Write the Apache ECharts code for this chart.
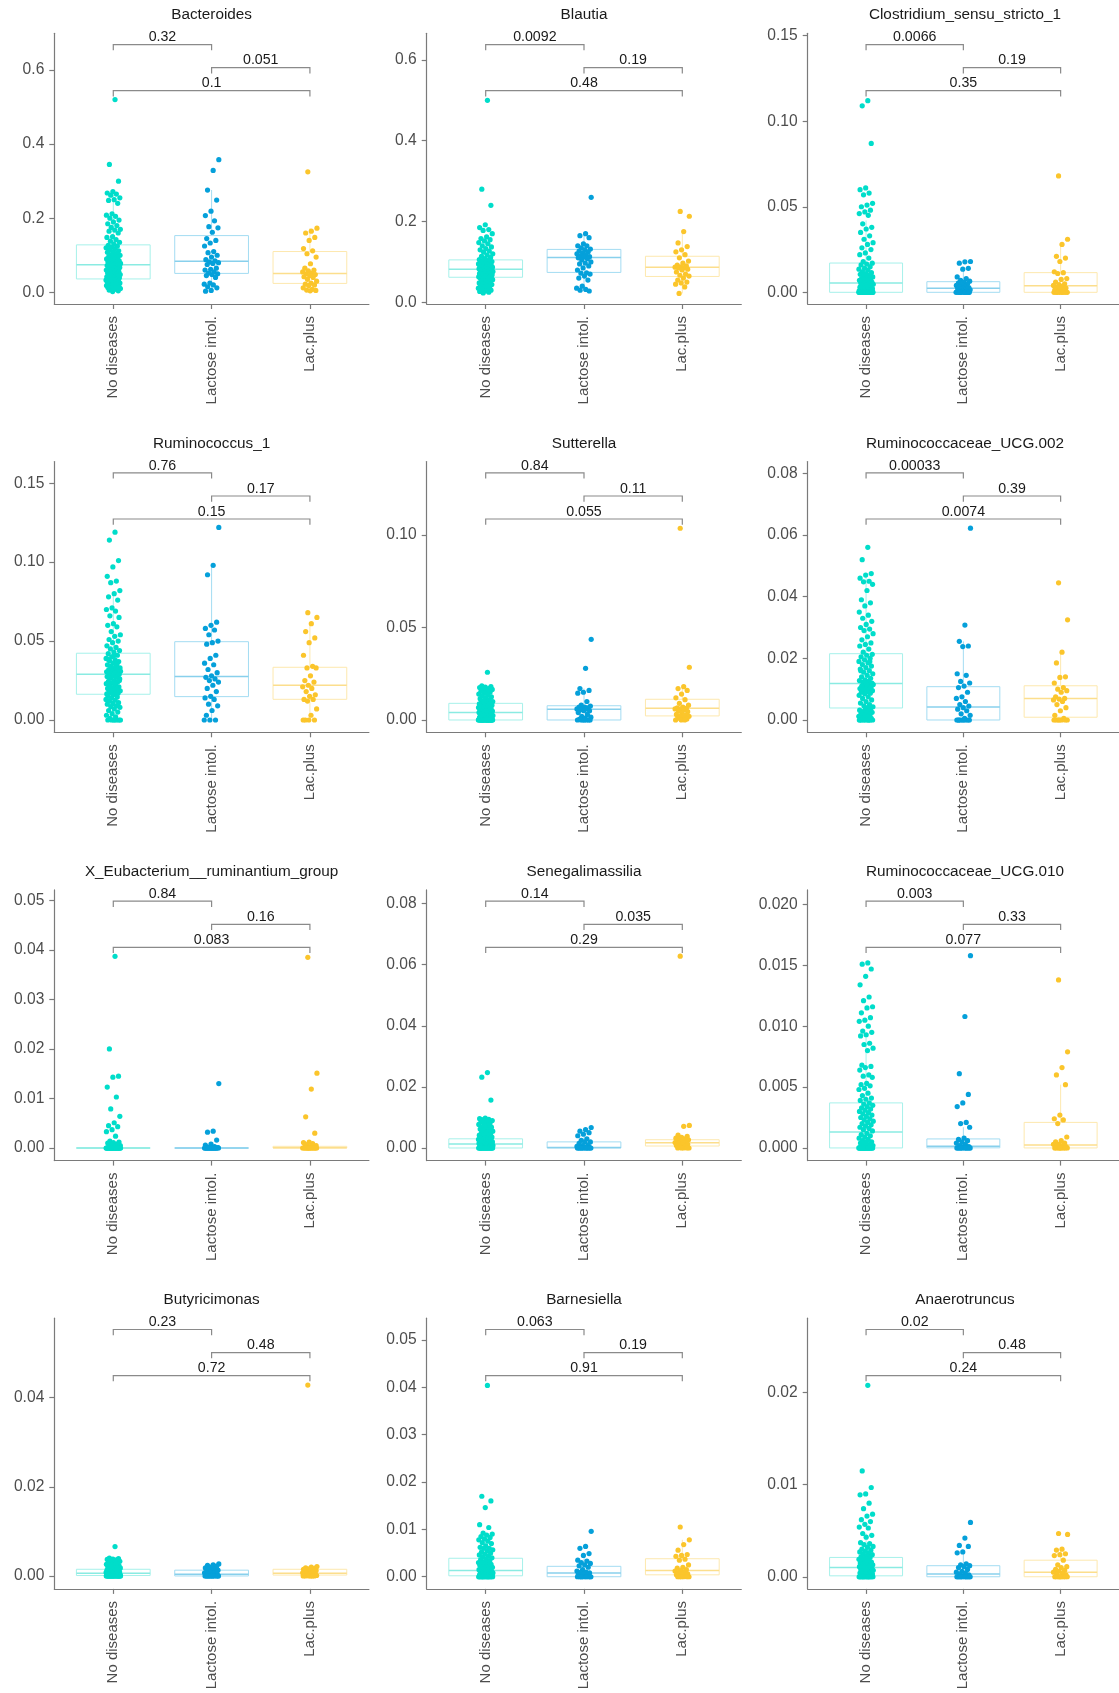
<!DOCTYPE html>
<html><head><meta charset="utf-8">
<script src="https://cdn.jsdelivr.net/npm/echarts@6.0.0/dist/echarts.min.js"></script>
<style>html,body{margin:0;padding:0;background:#fff}#c{width:1119px;height:1693px}</style>
</head><body><div id="c"></div>
<script>
const categories = ['No diseases', 'Lactose intol.', 'Lac.plus'];
const taxa = ['Bacteroides','Blautia','Clostridium_sensu_stricto_1','Ruminococcus_1','Sutterella','Ruminococcaceae_UCG.002','X_Eubacterium__ruminantium_group','Senegalimassilia','Ruminococcaceae_UCG.010','Butyricimonas','Barnesiella','Anaerotruncus'];
const yMinVals = [-0.0316,-0.0042,-0.00684,-0.0078,-0.00665,-0.00399,-0.00254,-0.00413,-0.00104,-0.0029,-0.00257,-0.00132];
const yMaxVals = [0.699,0.666,0.1514,0.1637,0.1396,0.0838,0.0521,0.0845,0.0212,0.0578,0.0546,0.0281];
const yTickLabels = [
  ['0.0','0.2','0.4','0.6'],['0.0','0.2','0.4','0.6'],['0.00','0.05','0.10','0.15'],
  ['0.00','0.05','0.10','0.15'],['0.00','0.05','0.10'],['0.00','0.02','0.04','0.06','0.08'],
  ['0.00','0.01','0.02','0.03','0.04','0.05'],['0.00','0.02','0.04','0.06','0.08'],['0.000','0.005','0.010','0.015','0.020'],
  ['0.00','0.02','0.04'],['0.00','0.01','0.02','0.03','0.04','0.05'],['0.00','0.01','0.02']
];
// p-values: [No vs Lactose, Lactose vs Lac.plus, No vs Lac.plus]
const pLabels = [
  ['0.32','0.051','0.1'],['0.0092','0.19','0.48'],['0.0066','0.19','0.35'],
  ['0.76','0.17','0.15'],['0.84','0.11','0.055'],['0.00033','0.39','0.0074'],
  ['0.84','0.16','0.083'],['0.14','0.035','0.29'],['0.003','0.33','0.077'],
  ['0.23','0.48','0.72'],['0.063','0.19','0.91'],['0.02','0.48','0.24']
];
// box stats: [lower whisker, q1, median, q3, upper whisker]
const boxND = [[0.002,0.036,0.074,0.128,0.272],[0.023,0.062,0.082,0.105,0.165],[0,0,0.0054,0.0171,0.042],[0,0.0163,0.029,0.0423,0.08],[0,0,0.0041,0.009,0.0185],[0,0.0039,0.0118,0.0215,0.0475],[0,0,0,0,0],[0,0,0.0013,0.003,0.0074],[0,0,0.0013,0.0037,0.0093],[0,0.0001,0.0006,0.0015,0.0035],[0,0.0002,0.0013,0.0039,0.0092],[0,0.0001,0.001,0.0021,0.0047]];
const boxLI = [[0.003,0.051,0.084,0.153,0.276],[0.028,0.074,0.111,0.131,0.17],[0,0,0.0023,0.0062,0.014],[0,0.0148,0.0275,0.0496,0.098],[0,0,0.0058,0.0077,0.017],[0,0,0.0042,0.0108,0.0255],[0,0,0,0,0],[0,0,0.0002,0.002,0.005],[0,0.00001,0.00014,0.00074,0.0017],[0,0,0.0004,0.0013,0.0027],[0,0,0.0008,0.0022,0.0049],[0,0,0.0003,0.0012,0.0029]];
const boxLP = [[0.003,0.024,0.051,0.110,0.173],[0.022,0.064,0.087,0.114,0.175],[0,0,0.0039,0.0115,0.028],[0,0.0131,0.022,0.0334,0.061],[0,0.0022,0.0063,0.0112,0.018],[0,0.0009,0.007,0.0111,0.022],[0,0,0.00005,0.00034,0.0012],[0,0.00065,0.0017,0.0027,0.0042],[0,0,0.00025,0.0021,0.0052],[0,0.0002,0.0006,0.0015,0.0021],[0,0.0004,0.0013,0.0038,0.0078],[0,0,0.0005,0.0018,0.003]];

// ---- point values ----
const ndBacteroides = [0.52,0.345,0.30,0.272,0.268,0.265,0.262,0.255,0.25,0.248,0.24,0.212,0.208,0.205,0.20,0.195,0.19,0.185,0.18,0.175,0.17,0.168,0.165,0.16,0.15,0.148,0.142,0.138,0.135,0.13,
 0.127,0.125,0.122,0.12,0.118,0.115,0.112,0.11,0.108,0.105,0.102,0.1,0.098,0.096,0.094,0.092,0.09,0.088,0.086,0.085,0.083,0.082,0.08,0.079,0.078,0.077,0.076,0.075,
 0.073,0.072,0.07,0.069,0.067,0.066,0.064,0.062,0.061,0.06,0.058,0.056,0.055,0.053,0.052,0.05,0.049,0.048,0.046,0.045,0.044,0.043,0.042,0.041,0.04,0.039,0.038,0.037,
 0.035,0.034,0.033,0.032,0.031,0.03,0.029,0.028,0.027,0.026,0.025,0.024,0.022,0.021,0.02,0.018,0.017,0.016,0.015,0.014,0.013,0.012,0.011,0.01,0.008,0.006,0.004,0.002];
const liBacteroides = [0.358,0.329,0.276,0.249,0.219,0.207,0.193,0.177,0.174,0.162,0.145,0.14,0.133,0.125,0.11,0.107,0.1,0.095,0.088,0.085,0.082,0.08,0.078,0.075,0.065,0.062,0.06,0.055,0.052,0.05,0.048,0.045,0.04,0.025,0.022,0.02,0.015,0.012,0.005,0.003];
const lpBacteroides = [0.325,0.173,0.165,0.16,0.148,0.14,0.118,0.112,0.104,0.095,0.077,0.065,0.06,0.058,0.055,0.052,0.05,0.048,0.045,0.042,0.04,0.035,0.03,0.025,0.022,0.02,0.018,0.012,0.008,0.006,0.005,0.004];

const ndBlautia = [0.50,0.28,0.24,0.192,0.185,0.18,0.178,0.17,0.162,0.158,0.155,0.152,0.148,0.145,0.14,0.137,0.133,0.13,0.127,0.124,0.12,0.117,0.114,0.111,0.108,0.106,
 0.104,0.103,0.101,0.1,0.099,0.097,0.096,0.095,0.094,0.093,0.092,0.091,0.09,0.089,0.088,0.087,0.086,0.086,0.085,0.084,0.083,0.083,0.082,
 0.081,0.08,0.079,0.078,0.077,0.076,0.075,0.074,0.073,0.072,0.071,0.07,0.069,0.068,0.067,0.066,0.065,0.064,0.063,0.062,0.062,0.063,0.066,
 0.061,0.06,0.058,0.056,0.055,0.053,0.052,0.05,0.048,0.047,0.045,0.044,0.042,0.04,0.039,0.037,0.035,0.034,0.032,0.03,0.028,0.027,0.025,0.023];
const liBlautia = [0.26,0.17,0.165,0.16,0.145,0.14,0.14,0.135,0.132,0.13,0.127,0.125,0.122,0.12,0.118,0.115,0.113,0.112,0.11,0.108,0.105,0.1,0.097,0.095,0.09,0.085,0.08,0.073,0.072,0.07,0.065,0.06,0.055,0.04,0.035,0.032,0.03,0.028];
const lpBlautia = [0.225,0.213,0.175,0.147,0.138,0.13,0.125,0.118,0.11,0.102,0.097,0.092,0.09,0.088,0.087,0.086,0.085,0.082,0.08,0.075,0.07,0.067,0.065,0.06,0.055,0.05,0.048,0.045,0.038,0.022];

const ndClostridium = [0.112,0.109,0.087,0.061,0.06,0.058,0.057,0.052,0.051,0.05,0.048,0.047,0.046,0.045,0.04,0.038,0.037,0.035,0.033,0.031,0.029,0.028,0.026,0.025,0.023,0.022,0.02,0.018,
 0.017,0.0165,0.016,0.015,0.014,0.0135,0.013,0.012,0.0115,0.011,0.0105,0.01,0.0095,0.009,0.0085,0.008,0.0078,0.0074,0.007,0.0066,0.0063,0.006,0.0057,0.0055,
 0.0053,0.005,0.0047,0.0044,0.004,0.0037,0.0034,0.003,0.0027,0.0024,0.0021,0.0018,0.0015,0.0013,0.001,0.0008,0.0006,0.0005,0.0004,0.0003,0.0002,0.0001,0.0001,0.0001,
 0,0,0,0,0,0,0,0,0,0,0,0,0,0,0,0,0,0,0,0,0,0,0,0,0,0];
const liClostridium = [0.018,0.0178,0.017,0.014,0.0135,0.009,0.008,0.007,0.0065,0.006,0.0055,0.005,0.0045,0.004,0.0035,0.003,0.0028,0.0025,0.0022,0.002,0.0018,0.0015,0.0012,0.001,0.0008,0.0005,0.0003,0.0001,0,0,0,0,0,0,0,0,0,0];
const lpClostridium = [0.068,0.031,0.028,0.021,0.02,0.018,0.012,0.0115,0.011,0.008,0.0075,0.006,0.005,0.0045,0.004,0.0035,0.003,0.0025,0.002,0.0015,0.001,0.0005,0,0,0,0,0,0,0,0];

const ndRuminococcus1 = [0.119,0.114,0.101,0.097,0.091,0.088,0.087,0.082,0.08,0.078,0.076,0.071,0.07,0.069,0.066,0.065,0.061,0.06,0.059,0.056,0.054,0.053,0.051,0.05,0.049,0.047,0.046,0.045,0.044,0.043,
 0.042,0.041,0.04,0.039,0.038,0.0375,0.037,0.036,0.035,0.0345,0.034,0.033,0.0325,0.032,0.0315,0.031,0.0305,0.03,0.0295,0.029,0.0405,0.0385,0.0355,0.0335,0.0308,0.0298,0.0292,
 0.0288,0.028,0.0275,0.027,0.0265,0.026,0.025,0.0245,0.024,0.0235,0.023,0.0225,0.022,0.021,0.0205,0.02,0.0195,0.019,0.0185,0.018,0.0175,0.017,0.0168,0.0165,0.0164,0.021,0.025,
 0.016,0.015,0.0145,0.014,0.013,0.0125,0.012,0.011,0.0105,0.01,0.009,0.0085,0.008,0.007,0.006,0.005,0.004,0.003,0.002,0.001,0,0,0,0,0,0,0];
const liRuminococcus1 = [0.122,0.098,0.092,0.062,0.06,0.058,0.057,0.054,0.05,0.049,0.048,0.041,0.039,0.036,0.035,0.032,0.03,0.028,0.027,0.026,0.025,0.024,0.022,0.02,0.018,0.015,0.014,0.013,0.01,0.009,0.006,0.003,0,0,0];
const lpRuminococcus1 = [0.068,0.065,0.061,0.056,0.052,0.049,0.041,0.034,0.033,0.033,0.028,0.025,0.024,0.022,0.021,0.02,0.018,0.016,0.015,0.013,0.013,0.012,0.007,0.003,0,0,0,0];

const ndSutterella = [0.0258,0.0185,0.018,0.0178,0.0175,0.017,0.0168,0.0165,0.016,0.0155,0.015,0.0145,0.014,0.0135,0.013,0.0125,0.012,0.0115,0.011,0.0105,0.01,0.0098,0.0095,0.0092,
 0.0089,0.0087,0.0085,0.0082,0.008,0.0078,0.0075,0.0072,0.007,0.0067,0.0065,0.0062,0.006,0.0057,0.0055,0.0053,0.005,0.0048,0.0046,0.0044,0.0043,0.0042,
 0.004,0.0038,0.0036,0.0034,0.0032,0.003,0.0028,0.0026,0.0024,0.0022,0.002,0.0018,0.0016,0.0014,0.0012,0.001,0.0008,0.0006,0.0005,0.0004,0.0003,0.0002,
 0,0,0,0,0,0,0,0,0,0,0,0,0,0,0,0,0,0,0,0,0,0,0,0];
const liSutterella = [0.0436,0.0279,0.017,0.016,0.015,0.0145,0.01,0.008,0.0075,0.007,0.007,0.0065,0.006,0.006,0.006,0.0055,0.005,0.005,0.004,0.003,0.002,0.0015,0.001,0.0005,0,0,0,0,0,0,0];
const lpSutterella = [0.1036,0.0285,0.018,0.017,0.016,0.014,0.012,0.011,0.009,0.008,0.007,0.0065,0.0063,0.006,0.006,0.0055,0.005,0.0045,0.004,0.003,0.0025,0.0022,0.002,0.0015,0.001,0.0005,0,0,0];

const ndRuminococcaceae002 = [0.056,0.052,0.0475,0.047,0.046,0.045,0.0448,0.044,0.042,0.039,0.038,0.037,0.035,0.034,0.033,0.032,0.031,0.03,0.0295,0.029,0.028,0.027,0.026,0.025,0.0245,0.024,0.023,0.022,
 0.0213,0.021,0.0205,0.02,0.0195,0.019,0.0185,0.018,0.0175,0.017,0.0165,0.016,0.0155,0.015,0.0145,0.014,0.0135,0.013,0.0128,0.0125,0.0122,0.012,0.0119,0.016,0.019,
 0.0117,0.0115,0.0112,0.011,0.0107,0.0105,0.0102,0.01,0.0097,0.0095,0.0092,0.009,0.0087,0.0085,0.008,0.0075,0.007,0.0065,0.006,0.0055,0.005,0.0046,0.0043,0.004,0.011,
 0.0038,0.0035,0.0032,0.003,0.0027,0.0025,0.0022,0.002,0.0017,0.0015,0.0012,0.001,0.0008,0.0005,0.0003,0,0,0,0,0,0,0,0,0,0];
const liRuminococcaceae002 = [0.0622,0.0308,0.0255,0.024,0.0238,0.015,0.0145,0.0125,0.012,0.011,0.0105,0.009,0.0075,0.007,0.006,0.005,0.0045,0.004,0.0035,0.003,0.002,0.0015,0.0005,0,0,0,0,0,0,0,0,0];
const lpRuminococcaceae002 = [0.0445,0.0325,0.022,0.0185,0.014,0.0138,0.012,0.0105,0.01,0.0095,0.009,0.0075,0.007,0.0068,0.0065,0.006,0.005,0.004,0.003,0.0015,0.0005,0,0,0,0,0,0,0];

const ndEubacterium = [0.0387,0.020,0.0145,0.0143,0.0123,0.0103,0.0079,0.0064,0.0051,0.0045,0.0043,0.0037,0.0033,0.0024,0.0014,0.0012,0.0011,0.001,0.0008,0.0007,0.0005,0.0004,0.0003,0.0002,0.0001,
 0,0,0,0,0,0,0,0,0,0,0,0,0,0,0,0,0,0,0,0,0,0,0,0,0,0,0,0,0,0];
const liEubacterium = [0.013,0.0034,0.0032,0.0016,0.0008,0.0006,0.0003,0.0002,0.0001,0,0,0,0,0,0,0,0,0,0,0,0,0,0,0,0,0,0,0,0];
const lpEubacterium = [0.0385,0.0151,0.0119,0.0063,0.003,0.0012,0.0011,0.0009,0.0007,0.0005,0.0003,0.0002,0.0001,0,0,0,0,0,0,0,0,0,0,0,0,0,0];

const ndSenegalimassilia = [0.0247,0.0232,0.0157,0.0098,0.0096,0.0094,0.0093,0.009,0.0088,0.0085,0.0082,0.008,0.0077,0.0074,0.007,0.0068,0.0065,0.0062,0.006,0.0057,0.0055,0.0052,0.005,0.0047,0.0045,0.0042,0.004,0.0038,0.0036,0.0034,0.0032,
 0.003,0.0029,0.0028,0.0027,0.0026,0.0025,0.0024,0.0023,0.0022,0.0021,0.002,0.0019,0.0018,0.0017,0.0016,0.0015,0.0014,0.0014,0.0013,
 0.0012,0.0011,0.001,0.0009,0.0008,0.0007,0.0006,0.0005,0.0004,0.0003,0.0002,0.0002,0.0001,0.0001,
 0,0,0,0,0,0,0,0,0,0,0,0,0,0,0,0,0,0,0,0,0,0];
const liSenegalimassilia = [0.0067,0.006,0.0055,0.005,0.0045,0.004,0.003,0.0025,0.002,0.002,0.0015,0.001,0.0008,0.0005,0.0003,0.0002,0.0002,0.0001,0,0,0,0,0,0,0,0,0,0,0,0];
const lpSenegalimassilia = [0.0628,0.0074,0.0071,0.0042,0.0038,0.0035,0.0032,0.003,0.0028,0.0027,0.0025,0.0023,0.002,0.0019,0.0018,0.0017,0.0015,0.0012,0.001,0.0008,0.0006,0.0003,0,0,0,0,0];

const ndRuminococcaceae010 = [0.0152,0.0151,0.0147,0.0141,0.0134,0.0124,0.0121,0.0116,0.0115,0.0111,0.0107,0.0105,0.0104,0.01,0.0096,0.0095,0.0093,0.0092,0.0086,0.0085,0.0082,0.008,0.0068,0.0067,0.0066,0.0064,0.006,0.0059,0.0058,0.0053,0.0052,0.0051,0.0049,0.0048,0.0045,0.0043,0.0041,0.004,0.0039,
 0.0037,0.0036,0.0035,0.0034,0.0033,0.0032,0.0031,0.003,0.0029,0.0028,0.0027,0.0026,0.0025,0.0024,0.0023,0.0022,0.0021,0.002,0.0019,0.0018,0.0017,0.0016,0.0015,0.0014,
 0.0012,0.0011,0.001,0.0009,0.0008,0.0007,0.0006,0.0005,0.0005,0.0004,0.0003,0.0003,0.0002,0.0002,0.0001,0.0001,
 0,0,0,0,0,0,0,0,0,0,0,0,0,0,0,0,0,0,0,0,0,0,0,0,0];
const liRuminococcaceae010 = [0.0158,0.0108,0.0061,0.0044,0.0037,0.0034,0.0021,0.002,0.0017,0.0008,0.0007,0.0006,0.0005,0.0004,0.0003,0.0002,0.0001,0.0001,0,0,0,0,0,0,0,0,0,0,0,0];
const lpRuminococcaceae010 = [0.0138,0.0079,0.0066,0.006,0.0052,0.0027,0.0024,0.0023,0.002,0.0009,0.0006,0.0005,0.0004,0.0003,0.0003,0.0002,0.0002,0.0001,0,0,0,0,0,0,0,0,0];

const ndButyricimonas = [0.0066,0.004,0.0039,0.0038,0.0037,0.0036,0.0035,0.0033,0.003,0.0029,0.0028,0.0027,0.0026,0.0025,0.0024,0.0023,0.0022,0.0021,0.002,0.0019,0.0018,0.0017,0.0016,0.0015,0.0014,0.0013,0.0012,0.0011,0.001,0.001,
 0.0009,0.0009,0.0008,0.0008,0.0007,0.0007,0.0006,0.0006,0.0005,0.0005,0.0004,0.0004,0.0003,0.0003,0.0002,0.0002,0.0001,0.0001,
 0,0,0,0,0,0,0,0,0,0,0,0,0,0,0,0,0,0,0,0];
const liButyricimonas = [0.0027,0.0025,0.0024,0.0022,0.002,0.0018,0.0016,0.0015,0.0013,0.0012,0.001,0.0009,0.0008,0.0007,0.0006,0.0005,0.0004,0.0003,0.0002,0.0001,0,0,0,0,0,0,0,0,0,0,0,0];
const lpButyricimonas = [0.0428,0.0021,0.002,0.0018,0.0017,0.0016,0.0015,0.0014,0.0013,0.0012,0.0011,0.001,0.0009,0.0008,0.0007,0.0006,0.0006,0.0005,0.0004,0.0003,0.0003,0.0002,0.0001,0,0,0,0,0,0];

const ndBarnesiella = [0.0404,0.017,0.016,0.0146,0.011,0.0104,0.0092,0.009,0.0088,0.0085,0.0083,0.008,0.0078,0.0075,0.0072,0.007,0.0065,0.0062,0.006,0.006,0.0057,0.0055,0.0052,0.005,0.0048,0.0046,0.0044,0.0042,0.004,
 0.0038,0.0036,0.0034,0.0032,0.003,0.0029,0.0028,0.0026,0.0025,0.0024,0.0022,0.0021,0.002,0.0019,0.0018,0.0017,0.0016,0.0015,0.0014,0.0013,
 0.0012,0.0011,0.001,0.0009,0.0008,0.0008,0.0007,0.0006,0.0005,0.0005,0.0004,0.0004,0.0003,0.0003,0.0002,0.0002,
 0.0001,0.0001,0,0,0,0,0,0,0,0,0,0,0,0,0,0,0,0];
const liBarnesiella = [0.0096,0.0064,0.006,0.0049,0.0045,0.0035,0.0033,0.003,0.0028,0.0025,0.0023,0.002,0.0015,0.0012,0.001,0.0009,0.0008,0.0006,0.0005,0.0003,0,0,0,0,0,0,0,0,0,0];
const lpBarnesiella = [0.0105,0.0078,0.0068,0.0056,0.0047,0.0045,0.0043,0.0037,0.0035,0.0025,0.002,0.0018,0.0015,0.0013,0.0012,0.001,0.0008,0.0006,0.0005,0.0004,0.0002,0,0,0,0,0,0];

const ndAnaerotruncus = [0.0208,0.0115,0.0097,0.009,0.0089,0.008,0.0074,0.0068,0.0066,0.0062,0.006,0.0057,0.0054,0.0053,0.0047,0.0045,0.0043,0.0037,0.0036,0.0035,0.0033,0.0032,0.003,0.0029,0.0028,0.0027,0.0026,0.0025,0.0024,0.0023,0.0022,
 0.0021,0.002,0.0019,0.0018,0.0017,0.0016,0.0016,0.0015,0.0014,0.0014,0.0013,0.0013,0.0012,0.0012,0.0011,0.0011,0.001,0.001,
 0.0009,0.0009,0.0008,0.0008,0.0007,0.0007,0.0006,0.0006,0.0005,0.0005,0.0004,0.0004,0.0003,0.0003,0.0002,0.0002,0.0001,0.0001,
 0,0,0,0,0,0,0,0,0,0,0,0,0,0,0,0];
const liAnaerotruncus = [0.0059,0.0042,0.0034,0.0033,0.0027,0.0026,0.0014,0.0013,0.0012,0.0011,0.001,0.0008,0.0006,0.0005,0.0004,0.0003,0.0002,0.0001,0,0,0,0,0,0,0,0,0,0,0,0];
const lpAnaerotruncus = [0.0047,0.0046,0.003,0.0029,0.0025,0.0024,0.0023,0.0018,0.0013,0.0011,0.001,0.0008,0.0007,0.0006,0.0005,0.0004,0.0003,0.0002,0,0,0,0,0,0,0,0,0];

const pointsND = [ndBacteroides,ndBlautia,ndClostridium,ndRuminococcus1,ndSutterella,ndRuminococcaceae002,ndEubacterium,ndSenegalimassilia,ndRuminococcaceae010,ndButyricimonas,ndBarnesiella,ndAnaerotruncus];
const pointsLI = [liBacteroides,liBlautia,liClostridium,liRuminococcus1,liSutterella,liRuminococcaceae002,liEubacterium,liSenegalimassilia,liRuminococcaceae010,liButyricimonas,liBarnesiella,liAnaerotruncus];
const pointsLP = [lpBacteroides,lpBlautia,lpClostridium,lpRuminococcus1,lpSutterella,lpRuminococcaceae002,lpEubacterium,lpSenegalimassilia,lpRuminococcaceae010,lpButyricimonas,lpBarnesiella,lpAnaerotruncus];

// ---- layout / style ----
const FONT = '"Liberation Sans", Arial, Helvetica, sans-serif';
const COL_LEFT = [54.3, 426.7, 807.7], GRID_W = 314.6, TOP0 = 33.3, ROW_H = 428.3, GRID_H = 270.7;
const PT_COLORS = ['#00DDCA', '#05A0DA', '#FBC52B'];
const BOX_COLORS = ['#A6F1EA', '#A3DCF2', '#FDE8AE'];
const MED_COLORS = ['#8AEBE2', '#88D0EC', '#FCDE8C'];
const AXIS_COLOR = '#7a7a7a';
const BRK_COLOR = '#8a8a8a';
const BRK_OFF = [11.3, 34.4, 57.4];
const BRK_PAIRS = [[1, 2], [2, 3], [1, 3]];
const JIT = 0.075;
function jitter(k, g) { return ((((k + 1) * 0.6180339887 + g * 0.37) % 1) - 0.5) * 2 * JIT; }

const grid = [], xAxis = [], yAxis = [], series = [], graphic = [];
taxa.forEach((name, i) => {
  const r = Math.floor(i / 3), c = i % 3;
  const left = COL_LEFT[c], top = TOP0 + r * ROW_H;
  grid.push({ left: left, top: top, width: GRID_W, height: GRID_H, containLabel: false });
  xAxis.push({
    type: 'value', gridIndex: i, min: 0.4, max: 3.6, splitLine: { show: false },
    axisLine: { show: true, onZero: false, lineStyle: { color: AXIS_COLOR, width: 1.2 } },
    axisTick: { show: true, customValues: [1, 2, 3], length: 5, lineStyle: { color: AXIS_COLOR, width: 1.2 } },
    axisLabel: { show: true, customValues: [1, 2, 3], rotate: 90, margin: 12, formatter: v => categories[Math.round(v) - 1],
      fontSize: 15, color: '#4d4d4d', fontFamily: FONT }
  });
  const tv = yTickLabels[i].map(Number);
  yAxis.push({
    type: 'value', gridIndex: i, min: yMinVals[i], max: yMaxVals[i], splitLine: { show: false },
    axisLine: { show: true, onZero: false, lineStyle: { color: AXIS_COLOR, width: 1.2 } },
    axisTick: { show: true, customValues: tv, length: 5, lineStyle: { color: AXIS_COLOR, width: 1.2 } },
    axisLabel: { show: true, customValues: tv, margin: 10, fontSize: 15.6, color: '#4d4d4d', fontFamily: FONT,
      formatter: v => { let k = 0, b = 1e9; tv.forEach((t, j) => { const d = Math.abs(t - v); if (d < b) { b = d; k = j; } }); return yTickLabels[i][k]; } }
  });
  graphic.push({ type: 'text', x: left + GRID_W / 2, y: 15 + r * ROW_H, silent: true,
    style: { text: name, align: 'center', verticalAlign: 'middle', textAlign: 'center', textVerticalAlign: 'middle', fontSize: 15.3, fontFamily: FONT, fill: '#1a1a1a' } });

  // boxes
  series.push({
    type: 'custom', xAxisIndex: i, yAxisIndex: i, z: 1, silent: true, animation: false, clip: false,
    data: [[1].concat(boxND[i]), [2].concat(boxLI[i]), [3].concat(boxLP[i])],
    encode: { x: 0, y: [1, 2, 3, 4, 5] },
    renderItem: (params, api) => {
      const g = params.dataIndex, x = api.value(0);
      const P = k => api.coord([x, api.value(k)]);
      const lo = P(1), q1 = P(2), md = P(3), q3 = P(4), hi = P(5);
      const hw = api.size([0.375, 0])[0];
      const cx = lo[0];
      const st = { stroke: BOX_COLORS[g], lineWidth: 1, fill: null };
      return { type: 'group', children: [
        { type: 'line', shape: { x1: cx, y1: hi[1], x2: cx, y2: q3[1] }, style: st },
        { type: 'line', shape: { x1: cx, y1: q1[1], x2: cx, y2: lo[1] }, style: st },
        { type: 'rect', shape: { x: cx - hw, y: q3[1], width: 2 * hw, height: q1[1] - q3[1] }, style: { stroke: BOX_COLORS[g], lineWidth: 1, fill: 'rgba(255,255,255,0)' } },
        { type: 'line', shape: { x1: cx - hw, y1: md[1], x2: cx + hw, y2: md[1] }, style: { stroke: MED_COLORS[g], lineWidth: 1.5 } }
      ] };
    }
  });
  // points
  [pointsND[i], pointsLI[i], pointsLP[i]].forEach((vals, g) => {
    series.push({ type: 'scatter', xAxisIndex: i, yAxisIndex: i, z: 2, silent: true, animation: false,
      symbolSize: 5.2, itemStyle: { color: PT_COLORS[g], opacity: 1 },
      data: vals.map((v, k) => [g + 1 + jitter(k, g), v]) });
  });
  // brackets
  const yr = yMaxVals[i] - yMinVals[i];
  series.push({
    type: 'custom', xAxisIndex: i, yAxisIndex: i, z: 3, silent: true, animation: false, clip: false,
    data: BRK_PAIRS.map((pr, k) => [pr[0], pr[1], yMaxVals[i] - BRK_OFF[k] / GRID_H * yr]),
    encode: { x: [0, 1], y: 2 },
    renderItem: (params, api) => {
      const k = params.dataIndex;
      const a = api.coord([api.value(0), api.value(2)]), b = api.coord([api.value(1), api.value(2)]);
      const tip = 5.7;
      return { type: 'group', children: [
        { type: 'polyline', shape: { points: [[a[0], a[1] + tip], [a[0], a[1]], [b[0], b[1]], [b[0], b[1] + tip]] }, style: { stroke: BRK_COLOR, lineWidth: 1.2, fill: null } },
        { type: 'text', x: (a[0] + b[0]) / 2, y: a[1] - 7.3,
          style: { text: pLabels[i][k], align: 'center', verticalAlign: 'middle', textAlign: 'center', textVerticalAlign: 'middle', fontSize: 14.2, fontFamily: FONT, fill: '#1a1a1a' } }
      ] };
    }
  });
});

const chart = echarts.init(document.getElementById('c'), null, { renderer: 'canvas' });
chart.setOption({ backgroundColor: '#fff', animation: false, grid, xAxis, yAxis, series, graphic });
</script></body></html>
